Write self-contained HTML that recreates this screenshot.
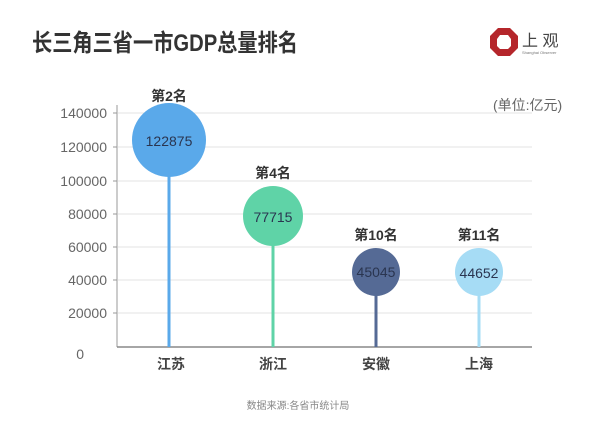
<!DOCTYPE html>
<html><head><meta charset="utf-8"><style>
body{margin:0;background:#fff;}
svg{display:block;font-family:"Liberation Sans","Noto Sans CJK SC",sans-serif;}
</style></head><body>
<svg width="600" height="426" viewBox="0 0 600 426">
<text x="32" y="51" font-size="24" font-weight="bold" fill="#333" textLength="266" lengthAdjust="spacingAndGlyphs">长三角三省一市GDP总量排名</text>
<g transform="translate(504,42)">
<polygon points="-6,-14 6,-14 14,-6 14,6 6,14 -6,14 -14,6 -14,-6" fill="#b5262b"/>
<polygon points="-4,-7 4,-7 7,-3 7,4 4,7 -4,7 -7,4 -7,-3" fill="#fff"/>
</g>
<text x="522" y="46" font-size="16" fill="#444">上 观</text>
<text x="522" y="54" font-size="4" fill="#777">Shanghai Observer</text>
<text x="493" y="110" font-size="14" fill="#666">(单位:亿元)</text>
<g stroke="#e3e3e3" stroke-width="1">
<line x1="118" y1="113" x2="532" y2="113"/><line x1="118" y1="147" x2="532" y2="147"/>
<line x1="118" y1="181" x2="532" y2="181"/><line x1="118" y1="214" x2="532" y2="214"/>
<line x1="118" y1="247" x2="532" y2="247"/><line x1="118" y1="280" x2="532" y2="280"/>
<line x1="118" y1="313" x2="532" y2="313"/>
</g>
<line x1="117" y1="105" x2="117" y2="347" stroke="#999"/>
<line x1="117" y1="347" x2="532" y2="347" stroke="#888" stroke-width="1.5"/>
<g stroke="#999"><line x1="113" y1="113" x2="117" y2="113"/><line x1="113" y1="147" x2="117" y2="147"/><line x1="113" y1="181" x2="117" y2="181"/><line x1="113" y1="214" x2="117" y2="214"/><line x1="113" y1="247" x2="117" y2="247"/><line x1="113" y1="280" x2="117" y2="280"/><line x1="113" y1="313" x2="117" y2="313"/></g>
<g font-size="14" fill="#666" text-anchor="end">
<text x="107" y="118">140000</text><text x="107" y="152">120000</text><text x="107" y="186">100000</text>
<text x="107" y="219">80000</text><text x="107" y="252">60000</text><text x="107" y="285">40000</text>
<text x="107" y="318">20000</text><text x="84" y="359">0</text>
</g>
<line x1="169" y1="140" x2="169" y2="347" stroke="#5aa9ea" stroke-width="3"/>
<line x1="273" y1="216" x2="273" y2="347" stroke="#5fd3a7" stroke-width="3"/>
<line x1="376" y1="272" x2="376" y2="347" stroke="#556a95" stroke-width="3"/>
<line x1="479" y1="272" x2="479" y2="347" stroke="#a6dcf5" stroke-width="3"/>
<circle cx="169" cy="140" r="37" fill="#5aa9ea"/>
<circle cx="273" cy="216" r="30" fill="#5fd3a7"/>
<circle cx="376" cy="272" r="24" fill="#556a95"/>
<circle cx="479" cy="272" r="24" fill="#a6dcf5"/>
<g font-size="14" fill="#2a3550" text-anchor="middle">
<text x="169" y="146">122875</text><text x="273" y="222">77715</text>
<text x="376" y="277">45045</text><text x="479" y="278">44652</text>
</g>
<g font-size="14" font-weight="bold" fill="#333" text-anchor="middle">
<text x="169" y="101">第2名</text><text x="273" y="178">第4名</text>
<text x="376" y="240">第10名</text><text x="479" y="240">第11名</text>
</g>
<g font-size="14" font-weight="bold" fill="#444" text-anchor="middle">
<text x="171" y="369">江苏</text><text x="273" y="369">浙江</text>
<text x="376" y="369">安徽</text><text x="479" y="369">上海</text>
</g>
<text x="298" y="409" font-size="10" fill="#888" text-anchor="middle">数据来源:各省市统计局</text>
</svg>
</body></html>
